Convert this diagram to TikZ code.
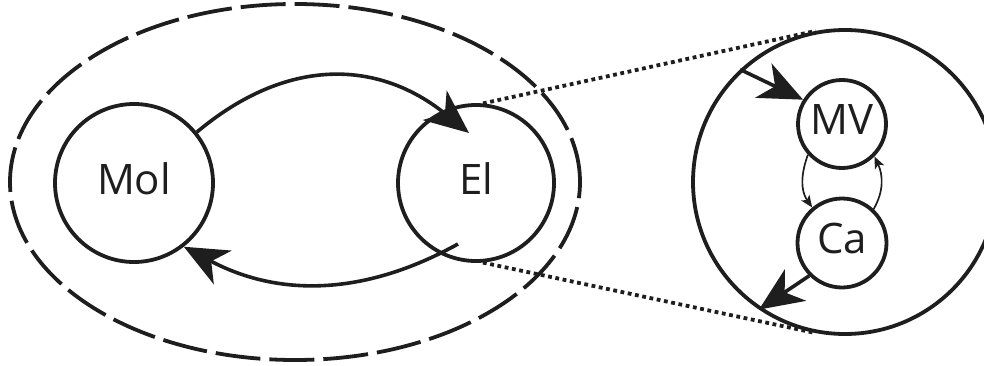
\documentclass[tikz,border=0pt]{standalone}
\usepackage{fontspec}
\setsansfont{Open Sans}
\usetikzlibrary{
    arrows.meta,
    shapes.geometric
}
\definecolor{ink}{RGB}{30,30,30}
\tikzset{
    line join=round,
    compartment/.style={
        circle,
        draw=ink,
        line width=3.8pt,
        text=ink,
        inner sep=0pt,
        text depth=9pt,
        font=\sffamily\fontsize{42}{50}\selectfont
    },
    cellwall/.style={
        ellipse,
        draw=ink,
        line width=3.8pt,
        dash pattern=on 45pt off 9pt,
        inner sep=0pt
    },
    flux/.style={
        -{Stealth[length=44pt, width=38pt, inset=13pt]},
        draw=ink,
        line width=3.6pt
    },
    loopflux/.style={
        -{Stealth[length=12pt, width=10pt, inset=3pt]},
        draw=ink,
        line width=1.7pt
    },
    zoomline/.style={
        draw=ink,
        line width=3.8pt,
        dash pattern=on 3.8pt off 3.6pt
    }
}

\begin{document}
\begin{tikzpicture}[x=1pt, y=1pt]

\useasboundingbox (0,0) rectangle (984,365);
\clip (0,0) rectangle (984,365);

% --- Cell (dashed outline) ---
\node[cellwall, minimum width=570pt, minimum height=356pt] (cell) at (295,183) {};

% --- Compartments ---
\node[compartment, minimum size=158pt] (Mol) at (134,182) {Mol};
\node[compartment, minimum size=156pt] (El) at (476,182) {El};

% ends of the loop inside El
\coordinate (elin) at (469,232);
\coordinate (elout) at (458,121);

\draw[flux] (Mol.39) to[out=40, in=141, looseness=1.1] (elin);
\draw[flux] (elout) to[out=-151, in=-28] (Mol.-52);

% --- Zoom on El ---
\node[compartment, minimum size=304pt] (zoom) at (845,183) {};
\draw[zoomline] (El.85) -- (zoom.101);
\draw[zoomline] (El.-85) -- (zoom.-101);

\node[compartment, minimum size=88pt] (MV) at (842,241) {MV};
\node[compartment, minimum size=89pt] (Ca) at (842,122) {Ca};

\draw[flux] (zoom.133) -- (MV.148);
\draw[flux] (Ca.-135) -- (zoom.-124);

% exchange between MV and Ca
\draw[loopflux] (MV.-138) to[out=-110, in=125] (Ca.130);
\draw[loopflux] (Ca.47) to[out=60, in=-65] (MV.-45);

\end{tikzpicture}
\end{document}
